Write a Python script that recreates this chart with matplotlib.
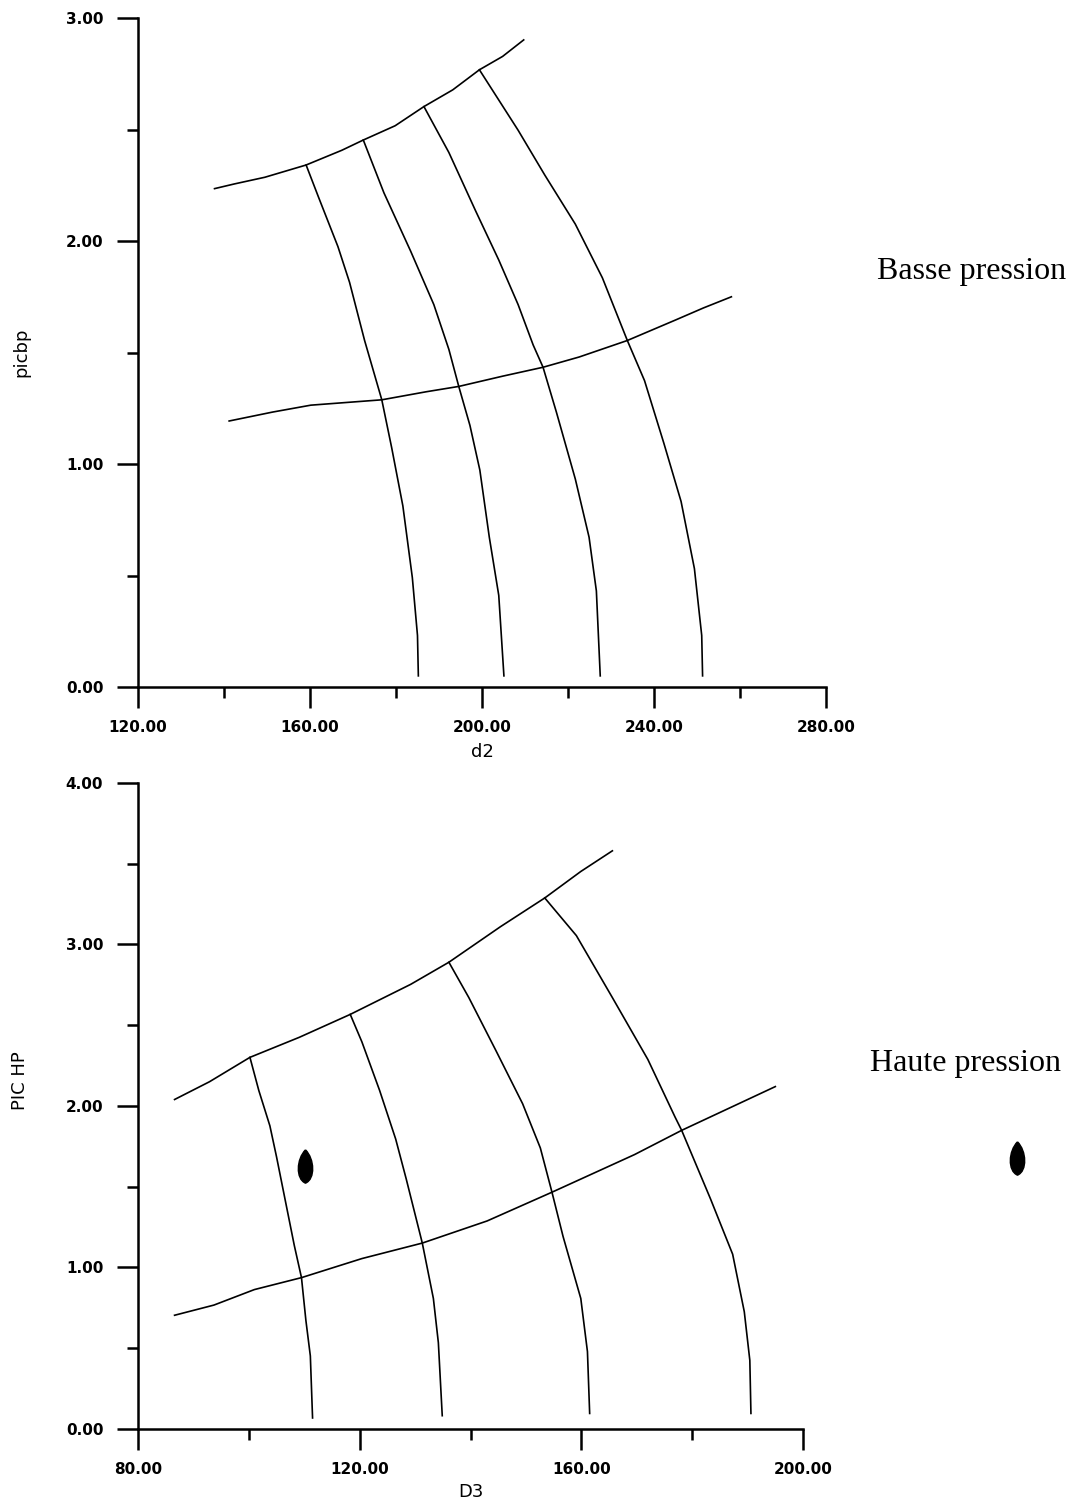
import numpy as np
import matplotlib
matplotlib.use('Agg')
import matplotlib.pyplot as plt
from matplotlib.path import Path
from matplotlib.ticker import MultipleLocator, FormatStrFormatter

# ---- data : basse pression (d2 / picbp) ----
bp_upper_x = [137.8, 142.4, 149.5, 159.1, 167.4, 172.4, 179.8, 186.5, 193.2, 199.4, 204.8, 209.7]
bp_upper_y = [2.235, 2.256, 2.286, 2.341, 2.407, 2.453, 2.517, 2.603, 2.678, 2.768, 2.828, 2.902]
bp_lower_x = [141.2, 151.3, 160.2, 176.7, 187.0, 194.6, 204.8, 214.2, 222.6, 233.8, 244.9, 251.5, 258.0]
bp_lower_y = [1.193, 1.233, 1.264, 1.288, 1.324, 1.348, 1.394, 1.434, 1.480, 1.554, 1.645, 1.700, 1.750]

bp_v1_x = [159.1, 162.0, 166.5, 169.2, 172.7, 176.7, 179.0, 181.6, 183.8, 185.0, 185.2]
bp_v1_y = [2.341, 2.196, 1.975, 1.815, 1.554, 1.288, 1.073, 0.812, 0.491, 0.231, 0.05]
bp_v2_x = [172.4, 177.2, 183.4, 188.8, 192.3, 194.6, 197.2, 199.5, 201.7, 203.9, 205.1]
bp_v2_y = [2.453, 2.216, 1.955, 1.715, 1.514, 1.348, 1.173, 0.973, 0.672, 0.411, 0.05]
bp_v3_x = [186.5, 192.3, 198.5, 203.9, 208.4, 211.9, 214.2, 217.3, 221.7, 224.9, 226.6, 227.5]
bp_v3_y = [2.603, 2.397, 2.136, 1.915, 1.715, 1.534, 1.434, 1.233, 0.933, 0.672, 0.431, 0.05]
bp_v4_x = [199.4, 208.4, 214.6, 221.7, 228.0, 233.8, 237.8, 242.3, 246.3, 249.4, 251.1, 251.3]
bp_v4_y = [2.768, 2.497, 2.296, 2.076, 1.835, 1.554, 1.374, 1.093, 0.832, 0.531, 0.231, 0.05]

# ---- data : haute pression (D3 / PIC HP) ----
hp_upper_x = [86.6, 92.9, 100.2, 109.1, 118.3, 129.2, 136.1, 145.4, 153.4, 159.9, 165.6]
hp_upper_y = [2.040, 2.150, 2.301, 2.425, 2.567, 2.753, 2.890, 3.110, 3.288, 3.452, 3.580]
hp_lower_x = [86.6, 93.7, 101.0, 109.5, 120.4, 131.3, 143.0, 154.7, 169.6, 178.1, 195.0]
hp_lower_y = [0.704, 0.767, 0.863, 0.937, 1.055, 1.151, 1.288, 1.466, 1.699, 1.849, 2.120]

hp_v1_x = [100.2, 101.8, 103.8, 105.0, 106.6, 108.2, 109.5, 110.3, 111.1, 111.5]
hp_v1_y = [2.301, 2.096, 1.877, 1.685, 1.411, 1.137, 0.937, 0.671, 0.452, 0.068]
hp_v2_x = [118.3, 120.4, 123.6, 126.5, 128.4, 130.0, 131.3, 133.3, 134.2, 134.9]
hp_v2_y = [2.567, 2.397, 2.096, 1.795, 1.548, 1.329, 1.151, 0.808, 0.534, 0.082]
hp_v3_x = [136.1, 139.7, 144.6, 149.4, 152.6, 154.7, 156.7, 159.9, 161.1, 161.5]
hp_v3_y = [2.890, 2.671, 2.342, 2.014, 1.740, 1.466, 1.192, 0.808, 0.479, 0.096]
hp_v4_x = [153.4, 159.1, 165.6, 172.0, 176.9, 178.1, 183.3, 187.3, 189.4, 190.4, 190.6]
hp_v4_y = [3.288, 3.055, 2.671, 2.288, 1.932, 1.849, 1.425, 1.082, 0.726, 0.425, 0.096]

hp_point_x = [110.2]
hp_point_y = [1.63]

# leaf shaped marker (as in the scan)
leaf = Path([(0, 1), (0.55, 0.45), (0.6, -0.75), (0, -1),
             (-0.6, -0.75), (-0.55, 0.45), (0, 1)],
            [Path.MOVETO, Path.CURVE4, Path.CURVE4, Path.CURVE4,
             Path.CURVE4, Path.CURVE4, Path.CURVE4])

plt.rcParams['font.family'] = ['DejaVu Sans']

fig = plt.figure(figsize=(10.68, 15.04), dpi=100)
fig.patch.set_facecolor('white')

label_font = dict(family='DejaVu Sans', size=13)
serif_font = dict(family='Liberation Serif', size=23)


def style_axes(ax, xlim, ylim, xmaj, ymaj):
    ax.set_xlim(*xlim)
    ax.set_ylim(*ylim)
    for s in ['top', 'right']:
        ax.spines[s].set_visible(False)
    for s in ['left', 'bottom']:
        ax.spines[s].set_linewidth(1.8)
    ax.xaxis.set_major_locator(MultipleLocator(xmaj))
    ax.xaxis.set_minor_locator(MultipleLocator(xmaj / 2))
    ax.yaxis.set_major_locator(MultipleLocator(ymaj))
    ax.yaxis.set_minor_locator(MultipleLocator(ymaj / 2))
    ax.xaxis.set_major_formatter(FormatStrFormatter('%.2f'))
    ax.yaxis.set_major_formatter(FormatStrFormatter('%.2f'))
    ax.tick_params(which='major', direction='out', length=15, width=1.8,
                   pad=9, labelsize=11)
    ax.tick_params(which='minor', direction='out', length=8, width=1.8)
    ax.tick_params(axis='y', which='major', pad=10)
    for lab in ax.get_xticklabels() + ax.get_yticklabels():
        lab.set_fontweight('bold')
    ax.patch.set_alpha(0)


# ---- top : basse pression ----
ax1 = fig.add_axes([0.1292, 0.5432, 0.6442, 0.4448])
for xs, ys in [(bp_upper_x, bp_upper_y), (bp_lower_x, bp_lower_y),
               (bp_v1_x, bp_v1_y), (bp_v2_x, bp_v2_y),
               (bp_v3_x, bp_v3_y), (bp_v4_x, bp_v4_y)]:
    ax1.plot(xs, ys, color='black', lw=1.2)
style_axes(ax1, (120, 280), (0, 3), 40, 1)
ax1.set_xlabel('d2', **label_font)
ax1.set_ylabel('picbp', **label_font)
ax1.xaxis.set_label_coords(0.5, -0.097)
ax1.xaxis.label.set_va('center')
ax1.yaxis.set_label_coords(-0.169, 0.5)
ax1.yaxis.label.set_va('center')
fig.text(0.821, 1 - 272 / 1504, 'Basse pression', ha='left', va='center', **serif_font)

# ---- bottom : haute pression ----
ax2 = fig.add_axes([0.1292, 0.0499, 0.6227, 0.4295])
for xs, ys in [(hp_upper_x, hp_upper_y), (hp_lower_x, hp_lower_y),
               (hp_v1_x, hp_v1_y), (hp_v2_x, hp_v2_y),
               (hp_v3_x, hp_v3_y), (hp_v4_x, hp_v4_y)]:
    ax2.plot(xs, ys, color='black', lw=1.2)
ax2.plot(hp_point_x, hp_point_y, marker=leaf, ms=24, color='black', ls='none')
style_axes(ax2, (80, 200), (0, 4), 40, 1)
ax2.set_xlabel('D3', **label_font)
ax2.set_ylabel('PIC HP', **label_font)
ax2.xaxis.set_label_coords(0.5, -0.0975)
ax2.xaxis.label.set_va('center')
ax2.yaxis.set_label_coords(-0.177, 0.54)
ax2.yaxis.label.set_va('center')
fig.text(0.815, 1 - 1063 / 1504, 'Haute pression', ha='left', va='center', **serif_font)
# stray leaf mark next to the legend text
ax2.plot([0.952], [1 - 1158 / 1504], marker=leaf, ms=24, color='black',
         transform=fig.transFigure, clip_on=False)

fig.savefig('out.png', dpi=100, facecolor='white')
